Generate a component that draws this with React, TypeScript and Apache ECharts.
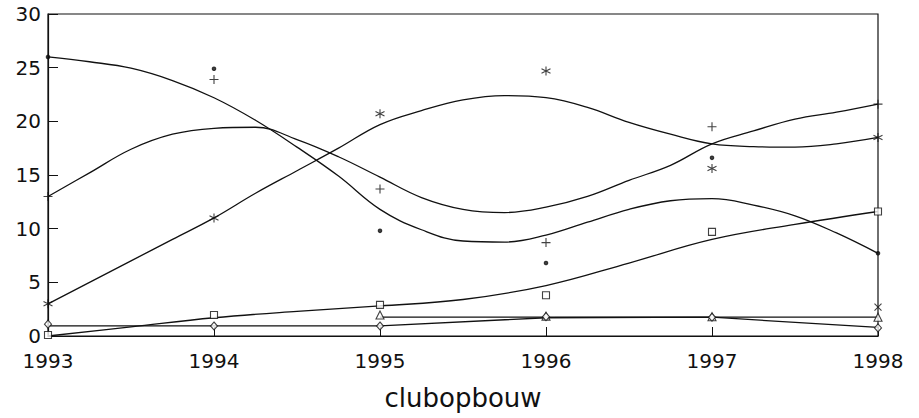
import React, { useEffect, useRef } from "react";
import * as echarts from "echarts";

// Observation years
const years = [1993, 1994, 1995, 1996, 1997, 1998];
// Sample positions of the fitted curves (quarter-year steps)
const curveX = [
  1993, 1993.25, 1993.5, 1993.75, 1994, 1994.25, 1994.5, 1994.75, 1995, 1995.25, 1995.5,
  1995.75, 1996, 1996.25, 1996.5, 1996.75, 1997, 1997.25, 1997.5, 1997.75, 1998,
];
const squareX = [1993, 1993.5, 1994, 1994.5, 1995, 1995.5, 1996, 1996.5, 1997, 1997.5, 1998];

// Fitted (smoothed) curves
const dotCurve = [
  26.0, 25.55, 24.95, 23.8, 22.2, 20.1, 17.6, 14.9, 11.8, 9.9, 8.85, 8.75, 9.4, 10.6, 11.8, 12.6,
  12.8, 12.2, 11.2, 9.6, 7.7,
];
const plusCurve = [
  13.0, 15.2, 17.4, 18.8, 19.35, 19.45, 18.3, 16.7, 14.8, 12.9, 11.8, 11.5, 12.0, 13.0, 14.5, 15.9,
  17.9, 19.1, 20.2, 20.85, 21.6,
];
const starCurve = [
  3.0, 5.0, 7.0, 9.0, 11.0, 13.3, 15.4, 17.5, 19.7, 21.0, 22.0, 22.4, 22.2, 21.3, 19.9, 18.8,
  17.9, 17.65, 17.6, 17.9, 18.5,
];
const squareCurve = [0, 0.85, 1.7, 2.3, 2.8, 3.4, 4.7, 6.8, 9.0, 10.4, 11.6];
// Straight connecting lines
const triangleLineX = [1995, 1998];
const triangleLine = [1.75, 1.75];
const diamondLine = [0.95, 0.95, 0.95, 1.7, 1.75, 0.8];

// Observed points
const dotPoints = [26, 24.9, 9.8, 6.8, 16.6, 7.7];
const plusPoints = [13, 23.9, 13.7, 8.7, 19.5, 21.6];
const starPoints = [3, 11, 20.7, 24.7, 15.6, 18.5];
const squarePoints = [0.1, 1.95, 2.9, 3.8, 9.7, 11.6];
const trianglePoints = [null, null, 1.95, 1.85, 1.8, 1.75];
const diamondPoints = [1.1, 0.93, 0.93, 1.8, 1.75, 0.75];
const crossPoints = [null, null, null, null, null, 2.7];

// Axis ticks
const yTicks = { min: 0, max: 30, interval: 5 };
const xTicks = { min: 1993, max: 1998, interval: 1 };
const xTitle = "clubopbouw";

const pair = (xs: number[], ys: (number | null)[]) =>
  xs.map((x, i) => [x, ys[i]]).filter((p) => p[1] !== null);

const FONT = "DejaVu Sans";
const INK = "#111";

export default function App() {
  const ref = useRef<HTMLDivElement>(null);
  useEffect(() => {
    if (!ref.current) return;
    const chart = echarts.init(ref.current, null, { renderer: "svg" });
    const curve = (data: any[]) => ({
      type: "line",
      data,
      smooth: 0.4,
      showSymbol: false,
      silent: true,
      lineStyle: { color: INK, width: 1.3 },
      z: 2,
    });
    const straight = (data: any[]) => ({
      type: "line",
      data,
      smooth: false,
      showSymbol: false,
      silent: true,
      lineStyle: { color: INK, width: 1.3 },
      z: 2,
    });
    const marks = (data: any[], symbol: string, size: number | number[], fill: string) => ({
      type: "scatter",
      data,
      symbol,
      symbolSize: size,
      silent: true,
      itemStyle: { color: fill, borderColor: INK, borderWidth: 1.1 },
      z: 3,
    });
    chart.setOption({
      animation: false,
      grid: {
        left: 48,
        right: 41,
        top: 14,
        bottom: 82,
        show: true,
        borderColor: INK,
        borderWidth: 1.2,
        backgroundColor: "transparent",
      },
      xAxis: {
        type: "value",
        min: xTicks.min,
        max: xTicks.max,
        interval: xTicks.interval,
        name: xTitle,
        nameLocation: "middle",
        nameGap: 49,
        nameTextStyle: { fontFamily: FONT, fontSize: 26, color: INK },
        axisLine: { lineStyle: { color: INK, width: 1.2 } },
        axisTick: { inside: true, length: 9, lineStyle: { color: INK } },
        axisLabel: {
          fontFamily: FONT,
          fontSize: 20,
          color: INK,
          margin: 15,
          formatter: (v: number) => String(v),
        },
        splitLine: { show: false },
      },
      yAxis: {
        type: "value",
        min: yTicks.min,
        max: yTicks.max,
        interval: yTicks.interval,
        axisLine: { show: true, lineStyle: { color: INK, width: 1.2 } },
        axisTick: { show: true, inside: true, length: 10, lineStyle: { color: INK } },
        axisLabel: { fontFamily: FONT, fontSize: 20, color: INK, margin: 7 },
        splitLine: { show: false },
      },
      series: [
        curve(pair(curveX, dotCurve)),
        curve(pair(curveX, plusCurve)),
        curve(pair(curveX, starCurve)),
        curve(pair(squareX, squareCurve)),
        straight(pair(triangleLineX, triangleLine)),
        straight(pair(years, diamondLine)),
        marks(pair(years, dotPoints), "circle", 3.5, INK),
        marks(pair(years, plusPoints), "path://M5,0L5,10M0,5L10,5", 9, "none"),
        marks(
          pair(years, starPoints),
          "path://M5,0L5,10M0.7,2.5L9.3,7.5M9.3,2.5L0.7,7.5",
          9,
          "none"
        ),
        marks(pair(years, squarePoints), "rect", 7, "#fff"),
        marks(pair(years, trianglePoints), "triangle", 8, "#fff"),
        marks(pair(years, diamondPoints), "diamond", [7, 8], "#fff"),
        marks(pair(years, crossPoints), "path://M0,0L10,10M10,0L0,10", 7, "none"),
      ],
    });
    return () => chart.dispose();
  }, []);
  return (
    <div
      ref={ref}
      style={{ position: "fixed", left: 0, top: 0, width: 919, height: 418, background: "#fff" }}
    />
  );
}
